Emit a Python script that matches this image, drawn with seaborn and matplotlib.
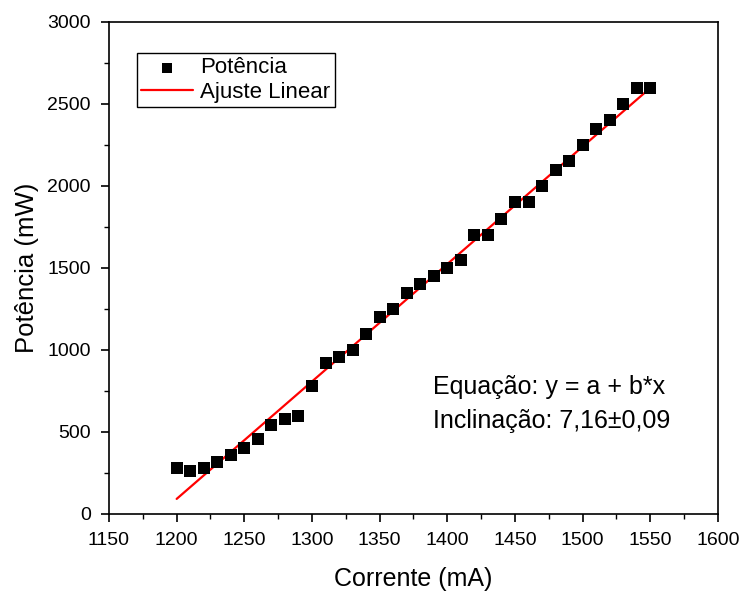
import matplotlib
matplotlib.use("Agg")
import matplotlib.pyplot as plt
from matplotlib.ticker import MultipleLocator
import seaborn as sns
import pandas as pd

corrente = [1200, 1210, 1220, 1230, 1240, 1250, 1260, 1270, 1280, 1290,
            1300, 1310, 1320, 1330, 1340, 1350, 1360, 1370, 1380, 1390,
            1400, 1410, 1420, 1430, 1440, 1450, 1460, 1470, 1480, 1490,
            1500, 1510, 1520, 1530, 1540, 1550]
potencia = [280, 260, 280, 320, 360, 400, 460, 540, 580, 600,
            780, 920, 960, 1000, 1100, 1200, 1250, 1350, 1400, 1450,
            1500, 1550, 1700, 1700, 1800, 1900, 1900, 2000, 2100, 2150,
            2250, 2350, 2400, 2500, 2600, 2600]
fit_x = [1200, 1550]
fit_y = [92, 2598]
x_ticks = [1150, 1200, 1250, 1300, 1350, 1400, 1450, 1500, 1550, 1600]
y_ticks = [0, 500, 1000, 1500, 2000, 2500, 3000]

sns.set_style("ticks")
plt.rcParams['font.family'] = ['Liberation Sans', 'DejaVu Sans']
plt.rcParams.update({"text.color": "black", "axes.labelcolor": "black",
                     "xtick.color": "black", "ytick.color": "black",
                     "axes.edgecolor": "black"})

fig = plt.figure(figsize=(7.44, 5.94), dpi=100)
ax = fig.add_axes([0.1465, 0.1347, 0.8185, 0.8283])

df = pd.DataFrame({"x": corrente, "y": potencia})
sns.scatterplot(data=df, x="x", y="y", ax=ax, marker="s", s=75, color="black",
                edgecolor="black", linewidth=0, label="Potência", zorder=3)
sns.lineplot(x=fit_x, y=fit_y, ax=ax, color="red", linewidth=1.6,
             label="Ajuste Linear", zorder=2)

ax.set_xlim(1150, 1600)
ax.set_ylim(0, 3000)
ax.set_xticks(x_ticks)
ax.set_yticks(y_ticks)
ax.xaxis.set_minor_locator(MultipleLocator(25))
ax.yaxis.set_minor_locator(MultipleLocator(250))
ax.tick_params(which="major", direction="out", length=6, width=1.2, pad=7,
               labelsize=14, top=False, right=False, colors="black")
ax.tick_params(which="minor", direction="out", length=3.5, width=1.0,
               top=False, right=False)
for sp in ax.spines.values():
    sp.set_visible(True)
    sp.set_linewidth(1.2)
    sp.set_color("black")

ax.set_xlabel("Corrente (mA)", fontsize=18, labelpad=13)
ax.set_ylabel("Potência (mW)", fontsize=18.5, labelpad=6)

ax.text(0.532, 0.258, "Equação: y = a + b*x", transform=ax.transAxes,
        fontsize=18, ha="left", va="center")
ax.text(0.532, 0.188, "Inclinação: 7,16±0,09", transform=ax.transAxes,
        fontsize=18, ha="left", va="center")

leg = ax.legend(loc="upper left", bbox_to_anchor=(0.046, 0.937), fontsize=16,
                frameon=True, fancybox=False, borderpad=0.2, handlelength=2.3,
                handletextpad=0.35, labelspacing=0.15, borderaxespad=0,
                markerscale=0.85)
leg.get_frame().set_edgecolor("black")
leg.get_frame().set_linewidth(1.0)
leg.get_frame().set_alpha(1)

fig.savefig("out.png", dpi=100)
